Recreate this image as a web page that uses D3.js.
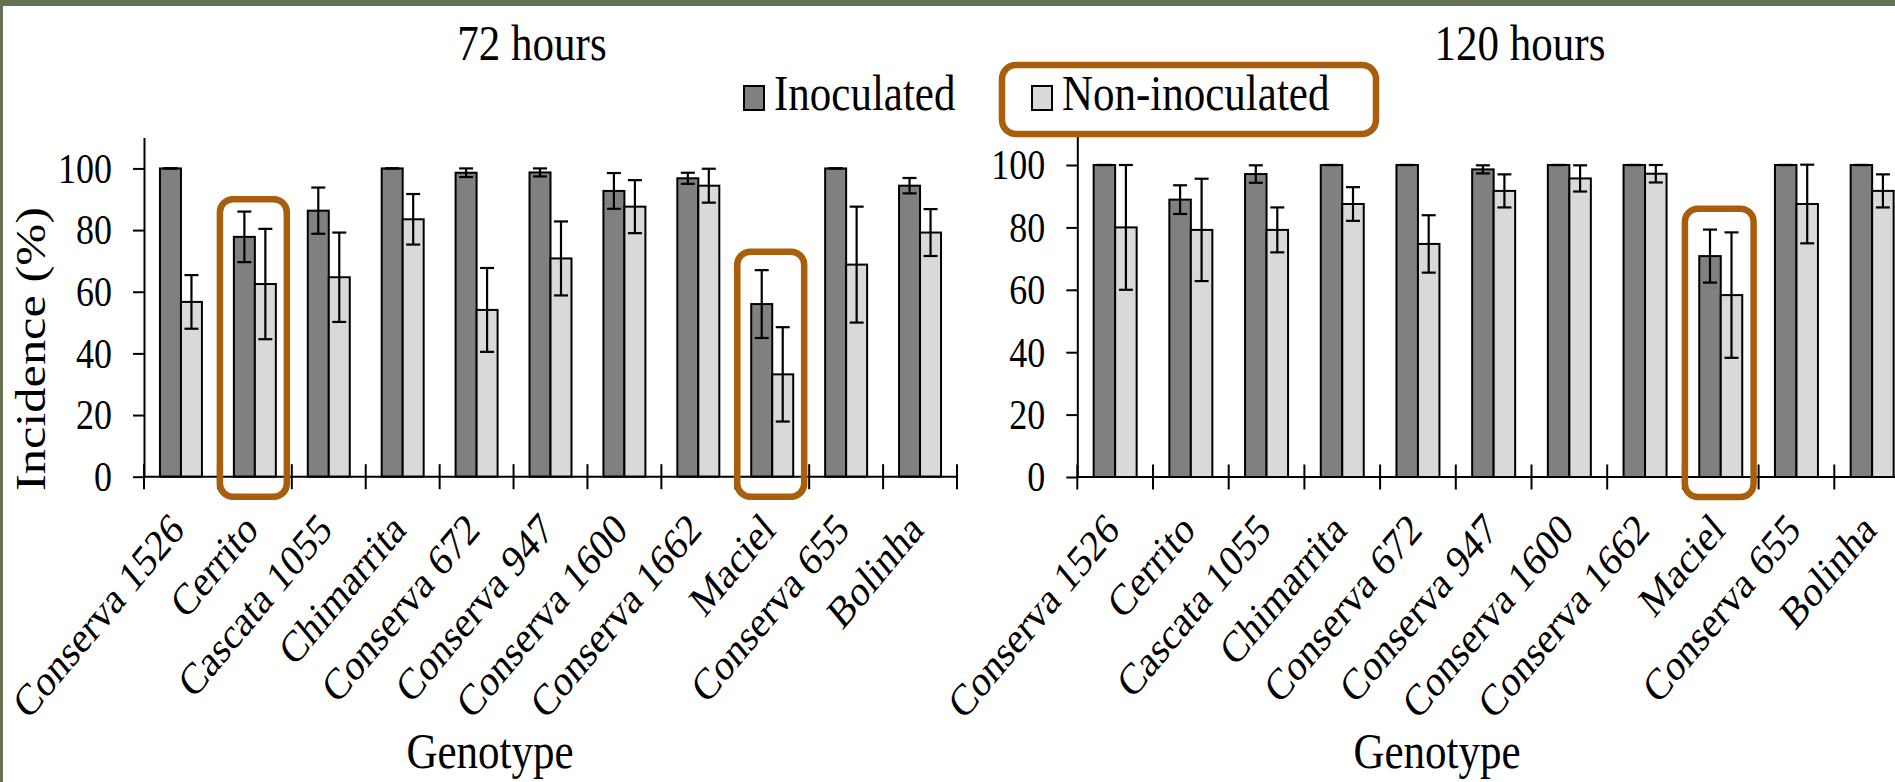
<!DOCTYPE html>
<html>
<head>
<meta charset="utf-8">
<script src="https://cdn.jsdelivr.net/npm/d3@7"></script>
<style>
body { margin: 0; background: #fff; }
text { font-family: "Liberation Serif", "Times New Roman", serif; fill: #000; }
</style>
</head>
<body>
<div id="chart"></div>
<script>
// data
var genotypes = ["Conserva 1526", "Cerrito", "Cascata 1055", "Chimarrita", "Conserva 672", "Conserva 947",
                 "Conserva 1600", "Conserva 1662", "Maciel", "Conserva 655", "Bolinha"];
var series = ["Inoculated", "Non-inoculated"];
var yTicks = [0, 20, 40, 60, 80, 100];

var inoc72     = [100, 77.8, 86.3, 100, 98.6, 98.7, 92.7, 96.8, 56.0, 100, 94.4];
var inoc72Err  = [0, 8.2, 7.5, 0, 1.4, 1.3, 5.8, 1.8, 11.0, 0, 2.5];
var non72      = [56.7, 62.5, 64.7, 83.5, 54.1, 70.8, 87.6, 94.4, 33.2, 68.8, 79.2];
var non72Err   = [8.7, 17.9, 14.5, 8.2, 13.6, 12.0, 8.6, 5.5, 15.3, 18.8, 7.6];

var inoc120    = [100, 88.9, 97.1, 100, 100, 98.6, 100, 100, 70.8, 100, 100];
var inoc120Err = [0, 4.6, 2.8, 0, 0, 1.3, 0, 0, 8.5, 0, 0];
var non120     = [80, 79.2, 79.2, 87.5, 74.7, 91.7, 95.7, 97.2, 58.3, 87.5, 91.7];
var non120Err  = [20, 16.4, 7.2, 5.4, 9.2, 5.3, 4.2, 2.8, 20.1, 12.6, 5.3];

// orange highlight boxes (top in % units)
var highlights = [
    {panel: 0, genotype: "Cerrito", top: 90},
    {panel: 0, genotype: "Maciel", top: 73},
    {panel: 1, genotype: "Maciel", top: 86}
];

var W = 1895, H = 782;
var S = 1.2;          // the picture is stretched vertically, text too
var orange = "#a85e0c";
var color = d3.scaleOrdinal().domain(series).range(["#808080", "#d9d9d9"]);

var panels = [
    {title: "72 hours", inoc: inoc72, inocErr: inoc72Err, non: non72, nonErr: non72Err,
     x0: 144, x1: 957, y0: 476.7, yTop: 137.6, titleX: 532, genoX: 490, labDx: 5},
    {title: "120 hours", inoc: inoc120, inocErr: inoc120Err, non: non120, nonErr: non120Err,
     x0: 1077.3, x1: 1910, y0: 477, yTop: 133.8, titleX: 1520, genoX: 1437, labDx: 6}
];

var svg = d3.select("#chart").append("svg")
    .attr("width", W)
    .attr("height", H);

svg.append("rect").attr("width", W).attr("height", H).attr("fill", "#fff");

function stretched(x, y, rot) {
    return "translate(" + x + "," + y + ") scale(1," + S + ")" + (rot ? " rotate(" + rot + ")" : "");
}

var scales = [];

panels.forEach(function(p, pi) {
    var x = d3.scaleBand().domain(genotypes).range([p.x0, p.x1]).padding(0);
    var bw = x.bandwidth();
    var xs = d3.scaleBand().domain(series).range([bw * 0.216, bw * 0.784]);
    var y = d3.scaleLinear().domain([0, 110]).range([p.y0, p.yTop]);
    scales.push({x: x, y: y});

    var g = svg.append("g");

    // y axis
    var ya = g.append("g")
        .attr("transform", "translate(" + p.x0 + ",0)")
        .call(d3.axisLeft(y).tickValues(yTicks).tickSize(11).tickSizeOuter(0).tickPadding(21));
    ya.select(".domain").attr("stroke-width", 2);
    ya.selectAll(".tick line").attr("stroke-width", 2);
    ya.selectAll(".tick text")
        .attr("font-size", 36)
        .attr("font-family", "Liberation Serif, serif")
        .attr("transform", "scale(1," + S + ")");

    // bars
    var rows = genotypes.map(function(gn, i) {
        return {g: gn, vals: [
            {s: series[0], v: p.inoc[i], e: p.inocErr[i]},
            {s: series[1], v: p.non[i], e: p.nonErr[i]}
        ]};
    });

    var cat = g.selectAll(".cat").data(rows).enter().append("g")
        .attr("class", "cat")
        .attr("transform", function(d) { return "translate(" + x(d.g) + ",0)"; });

    cat.selectAll("rect").data(function(d) { return d.vals; }).enter().append("rect")
        .attr("x", function(d) { return xs(d.s); })
        .attr("width", xs.bandwidth())
        .attr("y", function(d) { return y(d.v); })
        .attr("height", function(d) { return y(0) - y(d.v); })
        .attr("fill", function(d) { return color(d.s); })
        .attr("stroke", "#000")
        .attr("stroke-width", 2);

    // error bars
    var eb = cat.selectAll(".err").data(function(d) { return d.vals; }).enter().append("g")
        .attr("class", "err")
        .attr("transform", function(d) { return "translate(" + (xs(d.s) + xs.bandwidth() / 2) + ",0)"; })
        .attr("stroke", "#000")
        .attr("stroke-width", 2.2);
    eb.append("line")
        .attr("y1", function(d) { return y(d.v + d.e); })
        .attr("y2", function(d) { return y(d.v - d.e); });
    eb.append("line").attr("x1", -7).attr("x2", 7)
        .attr("y1", function(d) { return y(d.v + d.e); })
        .attr("y2", function(d) { return y(d.v + d.e); });
    eb.append("line").attr("x1", -7).attr("x2", 7)
        .attr("y1", function(d) { return y(d.v - d.e); })
        .attr("y2", function(d) { return y(d.v - d.e); });

    // x axis, ticks on the category borders
    g.append("line")
        .attr("x1", p.x0).attr("x2", p.x1)
        .attr("y1", y(0)).attr("y2", y(0))
        .attr("stroke", "#000").attr("stroke-width", 2);
    var borders = genotypes.map(function(c) { return x(c); }).concat([p.x1]);
    g.selectAll(".xtick").data(borders).enter().append("line")
        .attr("x1", function(d) { return d; }).attr("x2", function(d) { return d; })
        .attr("y1", y(0) - 12.5).attr("y2", y(0) + 12.5)
        .attr("stroke", "#000").attr("stroke-width", 2);

    // category labels
    g.selectAll(".xlab").data(genotypes).enter().append("text")
        .attr("text-anchor", "end")
        .attr("font-size", 37)
        .attr("transform", function(d) { return stretched(x(d) + bw / 2 + p.labDx, y(0) + 55, -45); })
        .text(function(d) { return d; });

    // title and axis title
    g.append("text")
        .attr("text-anchor", "middle")
        .attr("font-size", 43)
        .attr("transform", stretched(p.titleX, 60))
        .text(p.title);

    g.append("text")
        .attr("text-anchor", "middle")
        .attr("font-size", 43)
        .attr("transform", stretched(p.genoX, 768))
        .text("Genotype");
});

// y axis title
svg.append("text")
    .attr("text-anchor", "middle")
    .attr("font-size", 42)
    .attr("transform", stretched(45, 349, -90))
    .text("Incidence (%)");

// legend
var legend = [
    {s: series[0], x: 744, tx: 774},
    {s: series[1], x: 1032, tx: 1062}
];
var lg = svg.selectAll(".leg").data(legend).enter().append("g");
lg.append("rect")
    .attr("x", function(d) { return d.x; })
    .attr("y", 86)
    .attr("width", 20)
    .attr("height", 24)
    .attr("fill", function(d) { return color(d.s); })
    .attr("stroke", "#000")
    .attr("stroke-width", 2);
lg.append("text")
    .attr("font-size", 43)
    .attr("transform", function(d) { return stretched(d.tx, 110); })
    .text(function(d) { return d.s; });

// orange highlight boxes
highlights.forEach(function(h) {
    var sc = scales[h.panel];
    var bx = sc.x(h.genotype);
    svg.append("rect")
        .attr("x", bx + 2)
        .attr("y", sc.y(h.top))
        .attr("width", sc.x.bandwidth() - 7)
        .attr("height", sc.y(0) + 20 - sc.y(h.top))
        .attr("rx", 13)
        .attr("fill", "none")
        .attr("stroke", orange)
        .attr("stroke-width", 6.5);
});
svg.append("rect")
    .attr("x", 1002).attr("y", 65)
    .attr("width", 374).attr("height", 69)
    .attr("rx", 14)
    .attr("fill", "none")
    .attr("stroke", orange)
    .attr("stroke-width", 6.5);

// frame
svg.append("rect").attr("x", 0).attr("y", 0).attr("width", W).attr("height", 6).attr("fill", "#637152");
svg.append("rect").attr("x", 0).attr("y", 0).attr("width", 3).attr("height", H).attr("fill", "#637152");
</script>
</body>
</html>
